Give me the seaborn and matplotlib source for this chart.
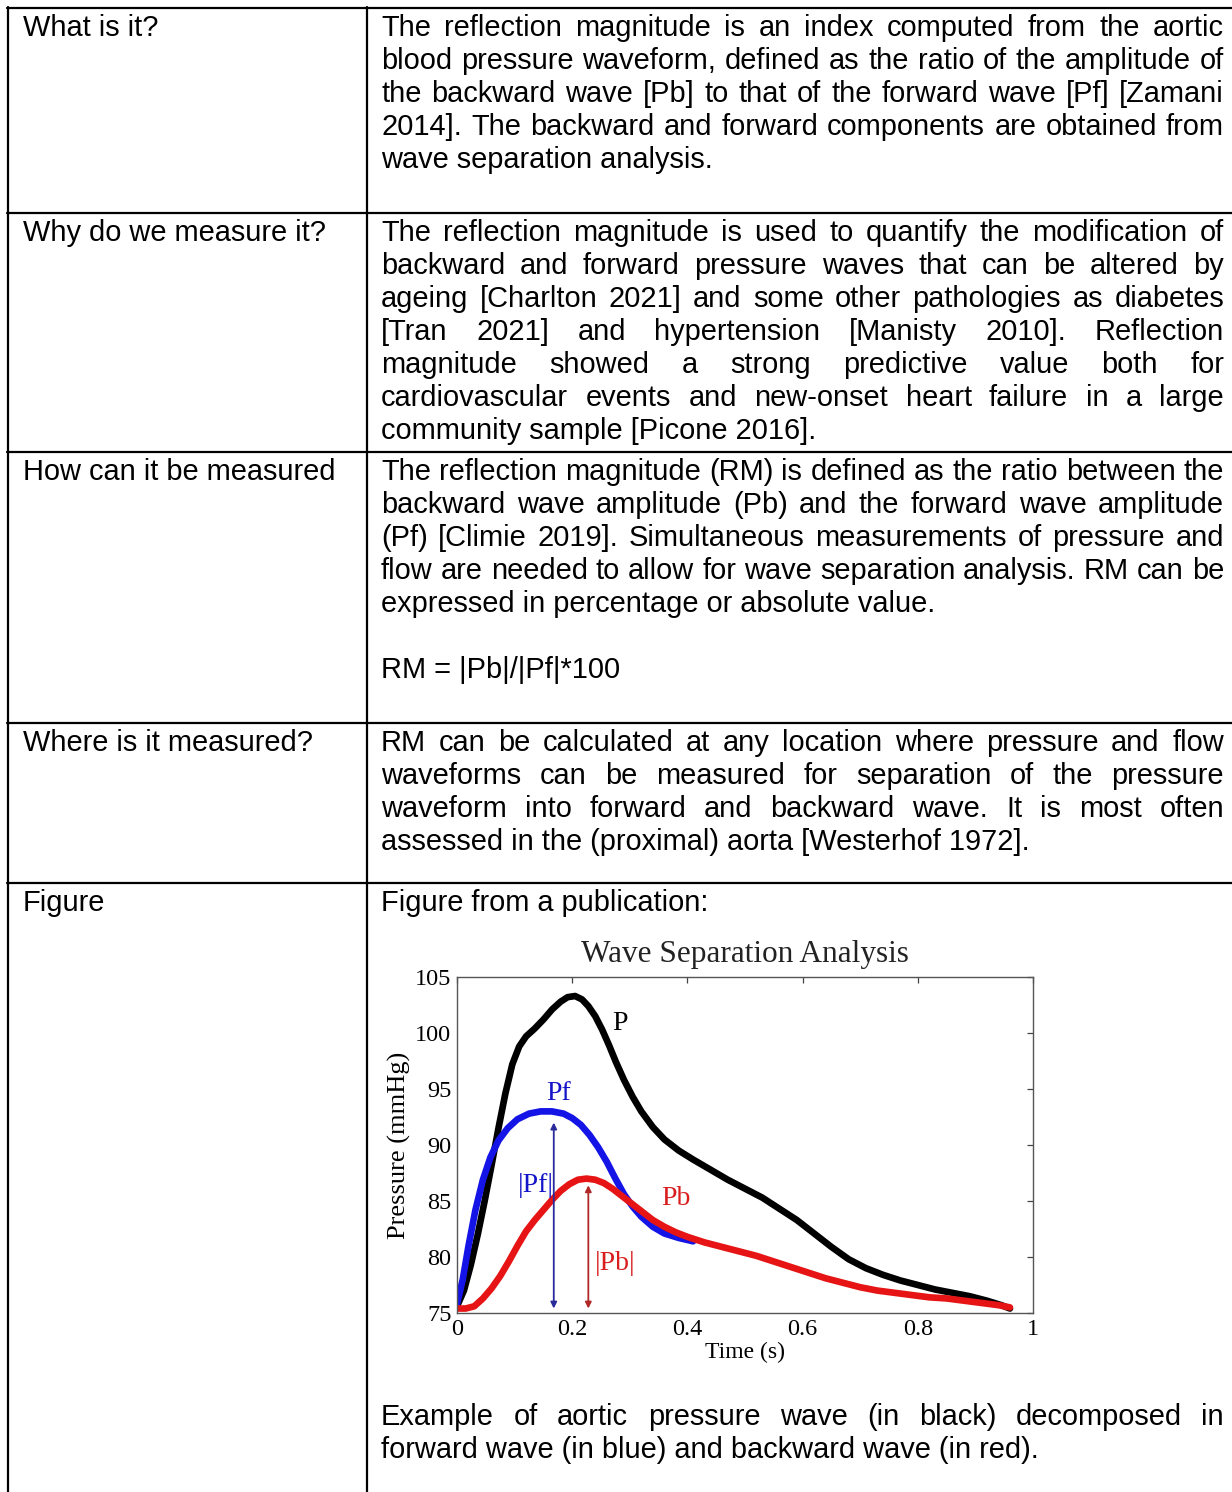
#%% IMPORTS
import matplotlib
matplotlib.use("Agg")
from matplotlib import pyplot as plt
from matplotlib.lines import Line2D
import pandas as pd
import seaborn as sns

#%% DATA
ROW_LABELS = ["What is it?", "Why do we measure it?", "How can it be measured",
              "Where is it measured?", "Figure"]

# paragraphs per row, each paragraph is a list of lines (last line not justified)
WHAT_TEXT = [[
    "The reflection magnitude is an index computed from the aortic",
    "blood pressure waveform, defined as the ratio of the amplitude of",
    "the backward wave [Pb] to that of the forward wave [Pf] [Zamani",
    "2014]. The backward and forward components are obtained from",
    "wave separation analysis.",
]]
WHY_TEXT = [[
    "The reflection magnitude is used to quantify the modification of",
    "backward and forward pressure waves that can be altered by",
    "ageing [Charlton 2021] and some other pathologies as diabetes",
    "[Tran 2021] and hypertension [Manisty 2010]. Reflection",
    "magnitude showed a strong predictive value both for",
    "cardiovascular events and new-onset heart failure in a large",
    "community sample [Picone 2016].",
]]
HOW_TEXT = [[
    "The reflection magnitude (RM) is defined as the ratio between the",
    "backward wave amplitude (Pb) and the forward wave amplitude",
    "(Pf) [Climie 2019]. Simultaneous measurements of pressure and",
    "flow are needed to allow for wave separation analysis. RM can be",
    "expressed in percentage or absolute value.",
], [""], ["RM = |Pb|/|Pf|*100"]]
WHERE_TEXT = [[
    "RM can be calculated at any location where pressure and flow",
    "waveforms can be measured for separation of the pressure",
    "waveform into forward and backward wave. It is most often",
    "assessed in the (proximal) aorta [Westerhof 1972].",
]]
FIGURE_INTRO = [["Figure from a publication:"]]
FIGURE_CAPTION = [[
    "Example of aortic pressure wave (in black) decomposed in",
    "forward wave (in blue) and backward wave (in red).",
]]

# curves
TIME_P = [0.000, 0.012, 0.024, 0.036, 0.048, 0.060, 0.072, 0.084, 0.096, 0.108,
          0.120, 0.135, 0.150, 0.165, 0.180, 0.192, 0.205, 0.217, 0.228, 0.240,
          0.252, 0.264, 0.276, 0.290, 0.305, 0.320, 0.340, 0.360, 0.385, 0.410,
          0.440, 0.470, 0.500, 0.530, 0.560, 0.590, 0.620, 0.650, 0.680, 0.710,
          0.740, 0.770, 0.800, 0.830, 0.860, 0.890, 0.920, 0.945, 0.960]
PRESSURE_P = [75.6, 77.0, 79.3, 82.0, 85.0, 88.2, 91.5, 94.6, 97.2, 98.8,
              99.7, 100.4, 101.2, 102.1, 102.8, 103.2, 103.3, 103.0, 102.4, 101.5,
              100.3, 98.9, 97.4, 95.8, 94.3, 93.0, 91.6, 90.5, 89.5, 88.7,
              87.8, 86.9, 86.1, 85.3, 84.3, 83.3, 82.1, 80.9, 79.8, 79.0,
              78.4, 77.9, 77.5, 77.1, 76.8, 76.5, 76.1, 75.7, 75.4]
TIME_PF = [0.000, 0.010, 0.020, 0.032, 0.045, 0.058, 0.072, 0.088, 0.105, 0.125,
           0.145, 0.165, 0.185, 0.200, 0.215, 0.230, 0.245, 0.260, 0.275, 0.290,
           0.305, 0.320, 0.340, 0.360, 0.385, 0.410]
PRESSURE_PF = [75.8, 78.0, 81.0, 84.2, 86.9, 88.9, 90.4, 91.5, 92.3, 92.8,
               93.0, 93.0, 92.8, 92.4, 91.8, 90.9, 89.8, 88.5, 87.0, 85.6,
               84.5, 83.6, 82.7, 82.1, 81.7, 81.4]
TIME_PB = [0.000, 0.015, 0.030, 0.045, 0.060, 0.075, 0.090, 0.105, 0.120, 0.135,
           0.150, 0.165, 0.180, 0.195, 0.210, 0.225, 0.240, 0.255, 0.270, 0.285,
           0.300, 0.320, 0.340, 0.360, 0.380, 0.400, 0.430, 0.460, 0.490, 0.520,
           0.550, 0.580, 0.610, 0.640, 0.670, 0.700, 0.730, 0.760, 0.790, 0.820,
           0.850, 0.880, 0.910, 0.940, 0.960]
PRESSURE_PB = [75.4, 75.4, 75.6, 76.3, 77.2, 78.3, 79.6, 81.0, 82.3, 83.3,
               84.2, 85.1, 85.9, 86.5, 86.9, 87.0, 86.9, 86.6, 86.1, 85.5,
               84.9, 84.1, 83.3, 82.7, 82.2, 81.8, 81.3, 80.9, 80.5, 80.1,
               79.6, 79.1, 78.6, 78.1, 77.7, 77.3, 77.0, 76.8, 76.6, 76.4,
               76.3, 76.1, 75.9, 75.7, 75.5]

WAVE_NAMES = ["P", "Pf", "Pb"]
WAVE_COLORS = {"P": "#000000", "Pf": "#1414e6", "Pb": "#e61414"}
X_TICKS = [0, 0.2, 0.4, 0.6, 0.8, 1]
X_TICK_LABELS = ["0", "0.2", "0.4", "0.6", "0.8", "1"]
Y_TICKS = [75, 80, 85, 90, 95, 100, 105]

# amplitude arrows: time, bottom, top
PF_ARROW = (0.168, 75.4, 92.0)
PB_ARROW = (0.228, 75.4, 86.4)

#%% LAYOUT (pixels)
W, H, DPI = 1232, 1492, 100
TABLE_LEFT, COL_DIV, TABLE_TOP = 8, 367, 8
ROW_TOPS = [8, 213, 452, 723, 883]
LEFT_TEXT_X, RIGHT_TEXT_X, RIGHT_TEXT_END = 23, 381, 1224
FIRST_BASE, LINE_STEP = 28, 33
BODY_PT = 29 * 72 / DPI
BODY_FONT = ["Liberation Sans", "DejaVu Sans"]
SERIF_FONT = ["Liberation Serif", "DejaVu Serif"]
AX_LEFT, AX_RIGHT, AX_TOP, AX_BOTTOM = 457, 1033, 977, 1313

sns.set_theme(style="white")
plt.rcParams["font.family"] = BODY_FONT
plt.rcParams["text.color"] = "black"
plt.rcParams["axes.labelcolor"] = "black"
plt.rcParams["xtick.labelcolor"] = "black"
plt.rcParams["ytick.labelcolor"] = "black"

fig = plt.figure(figsize=(W / DPI, H / DPI), dpi=DPI)
renderer = fig.canvas.get_renderer()


def fx(x):
    return x / W


def fy(y):
    return 1 - y / H


def word_width(word):
    t = fig.text(0, 0, word, fontsize=BODY_PT, family=BODY_FONT)
    w = t.get_window_extent(renderer).width
    t.remove()
    return w


def put_paragraphs(paras, baseline):
    """Write justified paragraphs in the right column, return next baseline."""
    for para in paras:
        for i, line in enumerate(para):
            words = line.split()
            last = i == len(para) - 1
            if words and not last and len(words) > 1:
                widths = [word_width(w) for w in words]
                gap = (RIGHT_TEXT_END - RIGHT_TEXT_X - sum(widths)) / (len(words) - 1)
                x = RIGHT_TEXT_X
                for w, wd in zip(words, widths):
                    fig.text(fx(x), fy(baseline), w, fontsize=BODY_PT,
                             family=BODY_FONT, va="baseline", ha="left")
                    x += wd + gap
            elif words:
                fig.text(fx(RIGHT_TEXT_X), fy(baseline), line, fontsize=BODY_PT,
                         family=BODY_FONT, va="baseline", ha="left")
            baseline += LINE_STEP
    return baseline


#%% TABLE
line_kw = dict(color="black", linewidth=1.6, transform=fig.transFigure)
for y in ROW_TOPS:
    fig.add_artist(Line2D([fx(TABLE_LEFT - 1), 1], [fy(y), fy(y)], **line_kw))
for x in (TABLE_LEFT, COL_DIV):
    fig.add_artist(Line2D([fx(x), fx(x)], [fy(TABLE_TOP - 1), 0], **line_kw))

for label, top in zip(ROW_LABELS, ROW_TOPS):
    fig.text(fx(LEFT_TEXT_X), fy(top + FIRST_BASE), label, fontsize=BODY_PT,
             family=BODY_FONT, va="baseline", ha="left")

for paras, top in zip([WHAT_TEXT, WHY_TEXT, HOW_TEXT, WHERE_TEXT, FIGURE_INTRO], ROW_TOPS):
    put_paragraphs(paras, top + FIRST_BASE)
put_paragraphs(FIGURE_CAPTION, 1425)

#%% EMBEDDED FIGURE
ax = fig.add_axes([fx(AX_LEFT), fy(AX_BOTTOM), fx(AX_RIGHT - AX_LEFT),
                   (AX_BOTTOM - AX_TOP) / H])
waves = pd.concat([
    pd.DataFrame({"t": TIME_P, "p": PRESSURE_P, "wave": "P"}),
    pd.DataFrame({"t": TIME_PF, "p": PRESSURE_PF, "wave": "Pf"}),
    pd.DataFrame({"t": TIME_PB, "p": PRESSURE_PB, "wave": "Pb"}),
], ignore_index=True)
sns.lineplot(data=waves, x="t", y="p", hue="wave", hue_order=WAVE_NAMES,
             palette=WAVE_COLORS, sort=False, estimator=None, linewidth=4.8,
             solid_capstyle="round", solid_joinstyle="round", legend=False, ax=ax)

for (t, lo, hi), col in ((PF_ARROW, "#2a2a9a"), (PB_ARROW, "#b02828")):
    ax.annotate("", xy=(t, hi), xytext=(t, lo),
                arrowprops=dict(arrowstyle="<|-|>", color=col, lw=1.3,
                                mutation_scale=9, shrinkA=0, shrinkB=0))

ann_kw = dict(family=SERIF_FONT, fontsize=20)
ax.text(0.27, 100.3, "P", color="black", **ann_kw)
ax.text(0.155, 94.0, "Pf", color="#1414c8", **ann_kw)
ax.text(0.105, 85.8, "|Pf|", color="#1414c8", **ann_kw)
ax.text(0.355, 84.6, "Pb", color="#d81e1e", **ann_kw)
ax.text(0.24, 78.8, "|Pb|", color="#d81e1e", **ann_kw)

ax.set_xlim(0, 1)
ax.set_ylim(75, 105)
ax.set_xticks(X_TICKS)
ax.set_xticklabels(X_TICK_LABELS)
ax.set_yticks(Y_TICKS)
ax.tick_params(direction="in", top=True, right=True, length=4.5, width=0.9,
               color="#444444", labelsize=17.5, pad=4)
for lab in ax.get_xticklabels() + ax.get_yticklabels():
    lab.set_family(SERIF_FONT)
for s in ax.spines.values():
    s.set_color("#555555")
    s.set_linewidth(1.0)
ax.set_xlabel("Time (s)", family=SERIF_FONT, fontsize=17, labelpad=2)
ax.set_ylabel("Pressure (mmHg)", family=SERIF_FONT, fontsize=19, labelpad=3)
ax.set_title("Wave Separation Analysis", family=SERIF_FONT, fontsize=22.5, pad=11,
             color="#222222")

fig.savefig("out.png", dpi=DPI, facecolor="white")
